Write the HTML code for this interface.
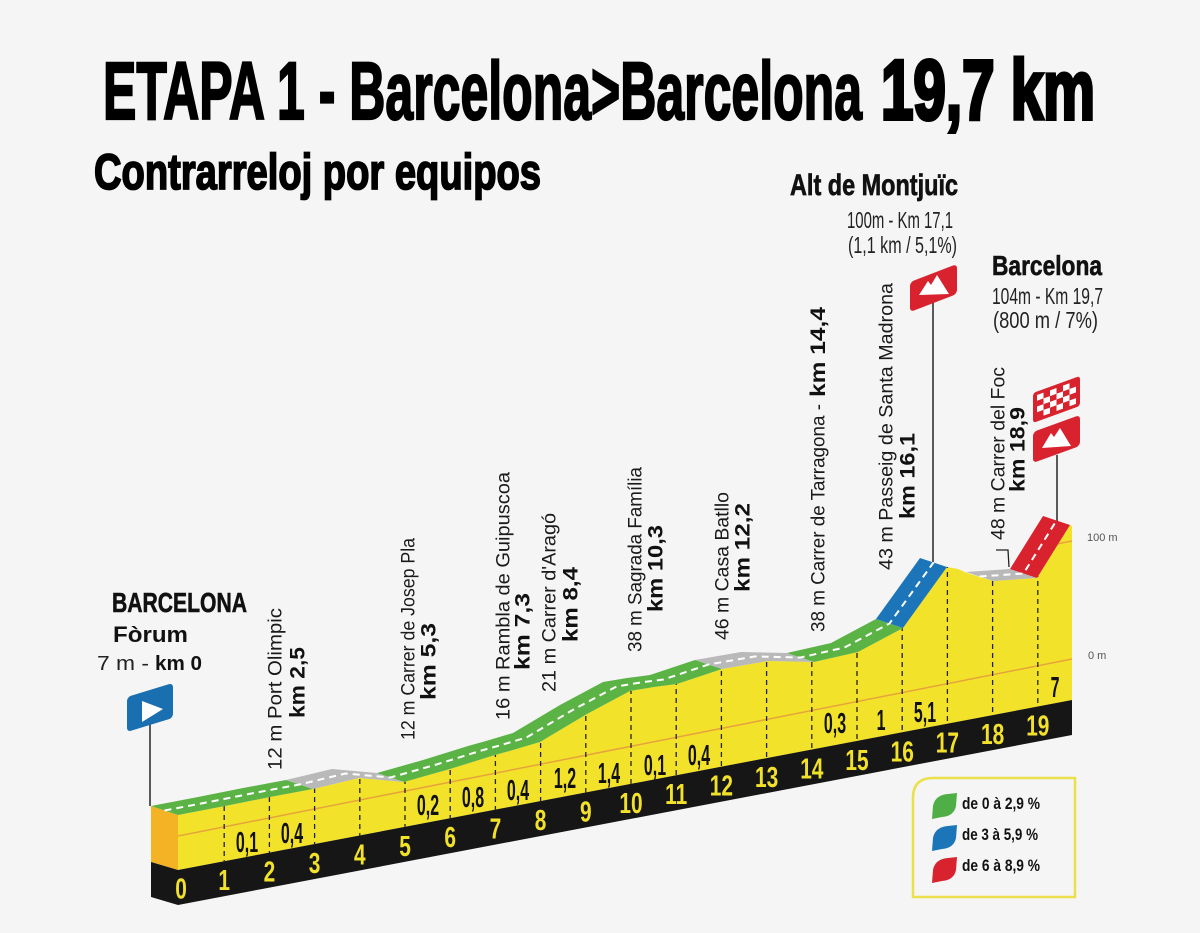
<!DOCTYPE html>
<html><head><meta charset="utf-8"><style>
html,body{margin:0;padding:0;background:#f5f5f5;}
svg{display:block;}
text{font-family:"Liberation Sans",Arial,sans-serif;}
</style></head><body>
<svg width="1200" height="933" viewBox="0 0 1200 933" xmlns="http://www.w3.org/2000/svg">
<rect width="1200" height="933" fill="#f5f5f5"/>
<defs>
<clipPath id="yc"><polygon points="178,815 225,806 270,797 313,789 359,778 404,782 450,769 495,755 513,750 540,742 587,714 630,691 654,687 677,684 722,669 768,661 814,662 858,652 903,628 947,567 958,569 967,573 993,581 1037,578 1070,525 1072,526 1072,700 178,870"/></clipPath>
</defs>

<!-- Titles -->
<text x="103" y="119" font-size="82" font-weight="bold" fill="#000" stroke="#000" stroke-width="2.2" textLength="759" lengthAdjust="spacingAndGlyphs">ETAPA 1 - Barcelona&gt;Barcelona</text>
<text x="881" y="119" font-size="84" font-weight="bold" fill="#000" stroke="#000" stroke-width="4" textLength="214" lengthAdjust="spacingAndGlyphs">19,7 km</text>
<text x="94" y="189" font-size="50" font-weight="bold" fill="#000" stroke="#000" stroke-width="1.8" textLength="447" lengthAdjust="spacingAndGlyphs">Contrarreloj por equipos</text>

<!-- Right top labels -->
<text x="790" y="195" font-size="30" font-weight="bold" fill="#111" stroke="#111" stroke-width="0.7" textLength="168" lengthAdjust="spacingAndGlyphs">Alt de Montjuïc</text>
<text x="847" y="228" font-size="23" fill="#222" textLength="106" lengthAdjust="spacingAndGlyphs">100m - Km 17,1</text>
<text x="848" y="253" font-size="23" fill="#222" textLength="109" lengthAdjust="spacingAndGlyphs">(1,1 km / 5,1%)</text>
<text x="992" y="275" font-size="28" font-weight="bold" fill="#111" stroke="#111" stroke-width="0.6" textLength="110" lengthAdjust="spacingAndGlyphs">Barcelona</text>
<text x="992" y="304" font-size="23" fill="#222" textLength="111" lengthAdjust="spacingAndGlyphs">104m - Km 19,7</text>
<text x="993" y="328" font-size="23" fill="#222" textLength="105" lengthAdjust="spacingAndGlyphs">(800 m / 7%)</text>

<!-- Start labels -->
<text x="112" y="612" font-size="28" font-weight="bold" fill="#111" stroke="#111" stroke-width="0.6" textLength="135" lengthAdjust="spacingAndGlyphs">BARCELONA</text>
<text x="113" y="642" font-size="22" font-weight="bold" fill="#111" textLength="75" lengthAdjust="spacingAndGlyphs">Fòrum</text>
<text x="97" y="670" font-size="20" fill="#222" textLength="52" lengthAdjust="spacingAndGlyphs">7 m -</text>
<text x="155" y="670" font-size="20" font-weight="bold" fill="#111" textLength="47" lengthAdjust="spacingAndGlyphs">km 0</text>

<!-- Rotated labels -->
<g fill="#1a1a1a" font-size="19">
<text transform="translate(281.5,770) rotate(-90)" textLength="162" lengthAdjust="spacingAndGlyphs">12 m Port Olimpic</text>
<text transform="translate(414.5,740) rotate(-90)" textLength="202" lengthAdjust="spacingAndGlyphs">12 m Carrer de Josep Pla</text>
<text transform="translate(509.5,720) rotate(-90)" textLength="248" lengthAdjust="spacingAndGlyphs">16 m Rambla de Guipuscoa</text>
<text transform="translate(555.5,692) rotate(-90)" textLength="179" lengthAdjust="spacingAndGlyphs">21 m Carrer d'Aragó</text>
<text transform="translate(641.5,652) rotate(-90)" textLength="185" lengthAdjust="spacingAndGlyphs">38 m Sagrada Família</text>
<text transform="translate(728.5,640) rotate(-90)" textLength="148" lengthAdjust="spacingAndGlyphs">46 m Casa Batllo</text>
<text transform="translate(824.5,632) rotate(-90)" textLength="228" lengthAdjust="spacingAndGlyphs">38 m Carrer de Tarragona -</text>
<text transform="translate(892.5,570) rotate(-90)" textLength="287" lengthAdjust="spacingAndGlyphs">43 m Passeig de Santa Madrona</text>
<text transform="translate(1004.5,540) rotate(-90)" textLength="173" lengthAdjust="spacingAndGlyphs">48 m Carrer del Foc</text>
</g>
<g fill="#111" font-size="21" font-weight="bold">
<text transform="translate(304.5,718) rotate(-90)" textLength="71" lengthAdjust="spacingAndGlyphs">km 2,5</text>
<text transform="translate(435.5,700) rotate(-90)" textLength="77" lengthAdjust="spacingAndGlyphs">km 5,3</text>
<text transform="translate(529.5,670) rotate(-90)" textLength="77" lengthAdjust="spacingAndGlyphs">km 7,3</text>
<text transform="translate(577.5,642) rotate(-90)" textLength="75" lengthAdjust="spacingAndGlyphs">km 8,4</text>
<text transform="translate(662.5,612) rotate(-90)" textLength="87" lengthAdjust="spacingAndGlyphs">km 10,3</text>
<text transform="translate(749.5,592) rotate(-90)" textLength="89" lengthAdjust="spacingAndGlyphs">km 12,2</text>
<text transform="translate(825,397) rotate(-90)" textLength="90" lengthAdjust="spacingAndGlyphs">km 14,4</text>
<text transform="translate(914.5,519) rotate(-90)" textLength="86" lengthAdjust="spacingAndGlyphs">km 16,1</text>
<text transform="translate(1024.5,492) rotate(-90)" textLength="85" lengthAdjust="spacingAndGlyphs">km 18,9</text>
</g>
<polyline points="996,550 1008,550 1009,567" fill="none" stroke="#222" stroke-width="1.3"/>

<!-- Poles -->
<line x1="150" y1="722" x2="150" y2="806" stroke="#333" stroke-width="1.6"/>
<line x1="933" y1="300" x2="933" y2="562" stroke="#333" stroke-width="1.6"/>
<line x1="1057" y1="455" x2="1057" y2="521" stroke="#333" stroke-width="1.6"/>

<!-- Profile body -->
<polygon points="151,806 178,815 178,870 151,862" fill="#f3b324"/>
<polygon points="178,815 225,806 270,797 313,789 359,778 404,782 450,769 495,755 513,750 540,742 587,714 630,691 654,687 677,684 722,669 768,661 814,662 858,652 903,628 947,567 958,569 967,573 993,581 1037,578 1070,525 1072,526 1072,700 178,870" fill="#f3e22a"/>
<g clip-path="url(#yc)">
<line x1="178" y1="836" x2="1072" y2="659" stroke="#e6a33c" stroke-width="1.5"/>
<line x1="178" y1="718" x2="1072" y2="541" stroke="#e6a33c" stroke-width="1.5"/>
<g stroke="#222" stroke-width="1.3" stroke-dasharray="5 4">
<line x1="224.2" y1="500" x2="224.2" y2="900"/>
<line x1="269.4" y1="500" x2="269.4" y2="900"/>
<line x1="314.6" y1="500" x2="314.6" y2="900"/>
<line x1="359.8" y1="500" x2="359.8" y2="900"/>
<line x1="405" y1="500" x2="405" y2="900"/>
<line x1="450.2" y1="500" x2="450.2" y2="900"/>
<line x1="495.4" y1="500" x2="495.4" y2="900"/>
<line x1="540.6" y1="500" x2="540.6" y2="900"/>
<line x1="585.8" y1="500" x2="585.8" y2="900"/>
<line x1="631" y1="500" x2="631" y2="900"/>
<line x1="676.2" y1="500" x2="676.2" y2="900"/>
<line x1="721.4" y1="500" x2="721.4" y2="900"/>
<line x1="766.6" y1="500" x2="766.6" y2="900"/>
<line x1="811.8" y1="500" x2="811.8" y2="900"/>
<line x1="857" y1="500" x2="857" y2="900"/>
<line x1="902.2" y1="500" x2="902.2" y2="900"/>
<line x1="947.4" y1="500" x2="947.4" y2="900"/>
<line x1="992.6" y1="500" x2="992.6" y2="900"/>
<line x1="1037.8" y1="500" x2="1037.8" y2="900"/>
</g>
</g>
<polygon points="151,862 178,870 178,905 151,897" fill="#161616"/>
<polygon points="178,870 1072,700 1072,735 178,905" fill="#161616"/>

<!-- Road ribbons -->
<polygon points="178,815 225,806 270,797 313,789 286,780 243,788 198,797 151,806" fill="#5bb346"/>
<polygon points="313,789 359,778 404,782 377,773 332,769 286,780" fill="#b9b9b9"/>
<polygon points="404,782 450,769 495,755 513,750 540,742 587,714 630,691 654,687 677,684 722,669 695,660 650,675 627,678 603,682 560,705 513,733 486,741 468,746 423,760 377,773" fill="#5bb346"/>
<polygon points="722,669 768,661 814,662 787,653 741,652 695,660" fill="#b9b9b9"/>
<polygon points="814,662 858,652 903,628 876,619 831,643 787,653" fill="#5bb346"/>
<polygon points="903,628 947,567 920,558 876,619" fill="#1c75b9"/>
<polygon points="993,581 1037,578 1010,569 966,572" fill="#b9b9b9"/>
<polygon points="1037,578 1070,525 1043,516 1010,569" fill="#d8222e"/>
<polyline points="164.5,810.5 211.5,801.5 256.5,792.5 299.5,784.5 345.5,773.5 390.5,777.5 436.5,764.5 481.5,750.5 499.5,745.5 526.5,737.5 573.5,709.5 616.5,686.5 640.5,682.5 663.5,679.5 708.5,664.5 754.5,656.5 800.5,657.5 844.5,647.5 889.5,623.5 933.5,562.5" fill="none" stroke="#fff" stroke-width="2" stroke-dasharray="7 5"/>
<polyline points="979.5,576.5 1023.5,573.5 1056.5,520.5" fill="none" stroke="#fff" stroke-width="2" stroke-dasharray="7 5"/>

<!-- km numbers -->
<g fill="#f2e12b" font-size="29" font-weight="bold" text-anchor="middle">
<text transform="translate(181,898.4) scale(0.72,1)">0</text>
<text transform="translate(224.2,890.2) scale(0.72,1)">1</text>
<text transform="translate(269.4,881.6) scale(0.72,1)">2</text>
<text transform="translate(314.6,873) scale(0.72,1)">3</text>
<text transform="translate(359.8,864.4) scale(0.72,1)">4</text>
<text transform="translate(405,855.8) scale(0.72,1)">5</text>
<text transform="translate(450.2,847.2) scale(0.72,1)">6</text>
<text transform="translate(495.4,838.6) scale(0.72,1)">7</text>
<text transform="translate(540.6,830) scale(0.72,1)">8</text>
<text transform="translate(585.8,821.4) scale(0.72,1)">9</text>
<text transform="translate(631,812.8) scale(0.72,1)">10</text>
<text transform="translate(676.2,804.2) scale(0.72,1)">11</text>
<text transform="translate(721.4,795.6) scale(0.72,1)">12</text>
<text transform="translate(766.6,787) scale(0.72,1)">13</text>
<text transform="translate(811.8,778.5) scale(0.72,1)">14</text>
<text transform="translate(857,769.9) scale(0.72,1)">15</text>
<text transform="translate(902.2,761.3) scale(0.72,1)">16</text>
<text transform="translate(947.4,752.7) scale(0.72,1)">17</text>
<text transform="translate(992.6,744.1) scale(0.72,1)">18</text>
<text transform="translate(1037.8,735.5) scale(0.72,1)">19</text>
</g>

<!-- gradient numbers -->
<g fill="#111" font-size="29" font-weight="bold" text-anchor="middle">
<text transform="translate(247,852) scale(0.55,1)">0,1</text>
<text transform="translate(292,843) scale(0.55,1)">0,4</text>
<text transform="translate(428,815) scale(0.55,1)">0,2</text>
<text transform="translate(473,807) scale(0.55,1)">0,8</text>
<text transform="translate(518,800) scale(0.55,1)">0,4</text>
<text transform="translate(565,788) scale(0.55,1)">1,2</text>
<text transform="translate(609,783) scale(0.55,1)">1,4</text>
<text transform="translate(655,775) scale(0.55,1)">0,1</text>
<text transform="translate(699,765) scale(0.55,1)">0,4</text>
<text transform="translate(835,733) scale(0.55,1)">0,3</text>
<text transform="translate(881,730) scale(0.55,1)">1</text>
<text transform="translate(925,722) scale(0.55,1)">5,1</text>
<text transform="translate(1055,697) scale(0.55,1)">7</text>
</g>

<!-- altitude labels -->
<text x="1087" y="541" font-size="11" fill="#555">100 m</text>
<text x="1088" y="659" font-size="11" fill="#555">0 m</text>

<!-- Flags -->
<g transform="translate(127,697) skewY(-17)"><rect x="0" y="0" width="46" height="35" rx="4" fill="#1a6fb0"/></g>
<polygon points="142,701 142,722 163,709" fill="#fff"/>

<g transform="translate(910,282) skewY(-21)"><rect x="0" y="0" width="47" height="30" rx="4" fill="#d8222e"/></g>
<polygon points="919,295 928,281 931,285 937,275 949,294" fill="#fff"/>

<g transform="translate(1033,393) skewY(-20)">
<rect x="0" y="0" width="47" height="30" rx="3" fill="#d8222e"/>
<g fill="#fff">
<rect x="4" y="3.5" width="6.5" height="5.75"/><rect x="17" y="3.5" width="6.5" height="5.75"/><rect x="30" y="3.5" width="6.5" height="5.75"/>
<rect x="10.5" y="9.25" width="6.5" height="5.75"/><rect x="23.5" y="9.25" width="6.5" height="5.75"/><rect x="36.5" y="9.25" width="6.5" height="5.75"/>
<rect x="4" y="15" width="6.5" height="5.75"/><rect x="17" y="15" width="6.5" height="5.75"/><rect x="30" y="15" width="6.5" height="5.75"/>
<rect x="10.5" y="20.75" width="6.5" height="5.75"/><rect x="23.5" y="20.75" width="6.5" height="5.75"/><rect x="36.5" y="20.75" width="6.5" height="5.75"/>
</g>
</g>
<g transform="translate(1033,432) skewY(-20)"><rect x="0" y="0" width="47" height="31" rx="4" fill="#d8222e"/></g>
<polygon points="1042,448 1051,433 1054,437 1060,428 1071,446" fill="#fff"/>

<!-- Legend -->
<path d="M933,778 L1075,778 L1075,897 L913,897 L913,798 Q913,778 933,778 Z" fill="none" stroke="#ece04a" stroke-width="2.5"/>
<path d="M932,819 L933,806 Q935,795 948,794 L957,793 L956,806 Q954,816 942,817 Z" fill="#4fae46"/>
<path d="M932,851 L933,838 Q935,827 948,826 L957,825 L956,838 Q954,848 942,849 Z" fill="#1c75b9"/>
<path d="M932,883 L933,870 Q935,859 948,858 L957,857 L956,870 Q954,880 942,881 Z" fill="#d8222e"/>
<g font-size="17" font-weight="bold" fill="#111">
<text x="962" y="809" textLength="78" lengthAdjust="spacingAndGlyphs">de 0 à 2,9 %</text>
<text x="962" y="840" textLength="76" lengthAdjust="spacingAndGlyphs">de 3 à 5,9 %</text>
<text x="962" y="871" textLength="78" lengthAdjust="spacingAndGlyphs">de 6 à 8,9 %</text>
</g>
</svg>
</body></html>
